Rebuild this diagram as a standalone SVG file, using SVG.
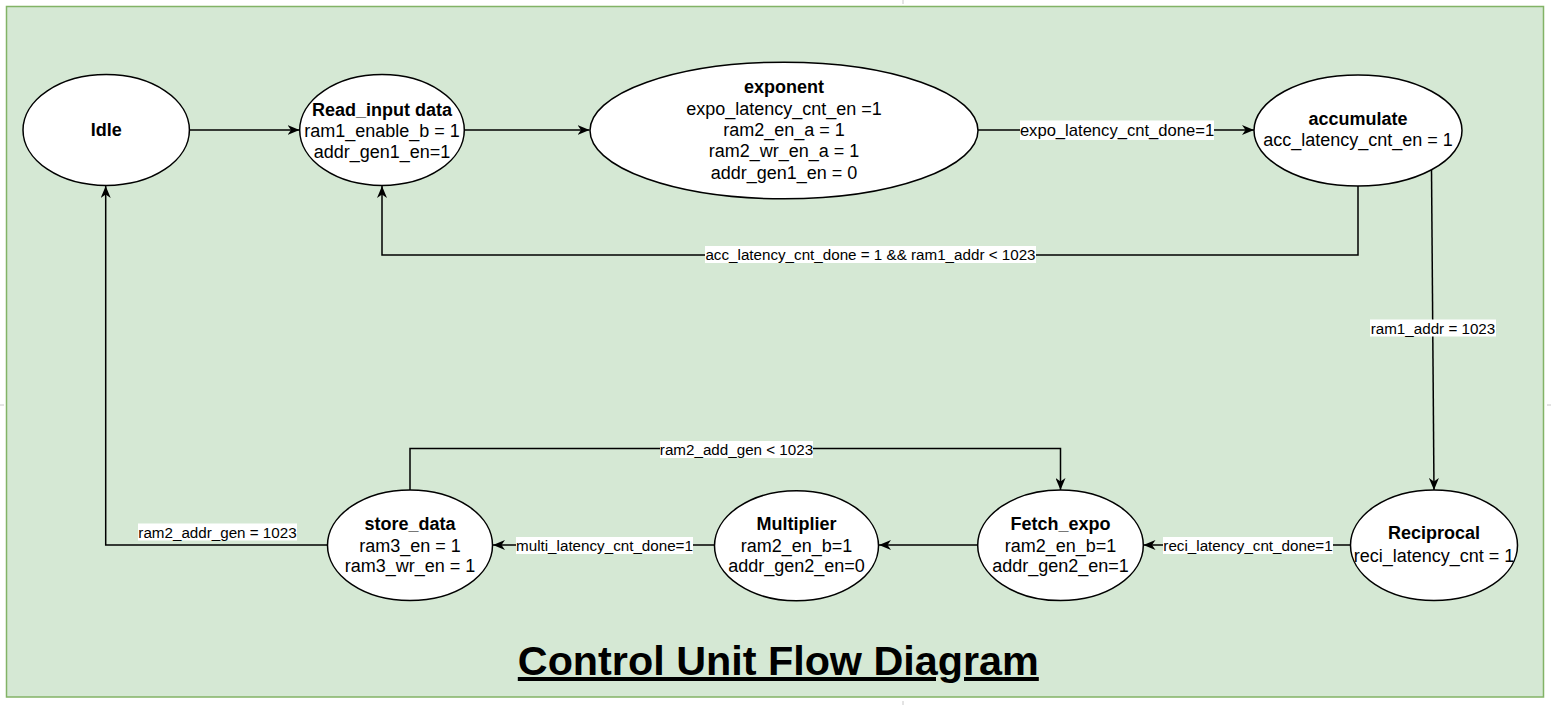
<svg xmlns="http://www.w3.org/2000/svg" width="1551" height="705" viewBox="0 0 1551 705">
<style>
  .node ellipse { fill: #ffffff; stroke: #000000; stroke-width: 1.5; }
  .nt { font-family: "Liberation Sans", Arial, sans-serif; font-size: 18px; fill: #000000; text-anchor: middle; }
  .b { font-weight: bold; }
  .edge { fill: none; stroke: #000000; stroke-width: 1.5; }
  .lbg { fill: #ffffff; stroke: none; }
  .lt { font-family: "Liberation Sans", Arial, sans-serif; font-size: 15.2px; fill: #000000; text-anchor: middle; }
  .tick { stroke: #c8c8c8; stroke-width: 1; }
</style>
<defs>
  <marker id="arr" viewBox="0 0 12 10" refX="12" refY="5" markerWidth="12" markerHeight="10" orient="auto" markerUnits="userSpaceOnUse">
    <path d="M0,0 L12,5 L0,10 L3.5,5 Z" fill="#000000"/>
  </marker>
</defs>
<rect width="1551" height="705" fill="#ffffff"/>
<g id="page-ticks">
  <line class="tick" x1="903" y1="0" x2="903" y2="4"/>
  <line class="tick" x1="903" y1="701" x2="903" y2="705"/>
  <line class="tick" x1="0" y1="405" x2="4" y2="405"/>
  <line class="tick" x1="1547" y1="405" x2="1551" y2="405"/>
</g>
<rect id="background" x="6.5" y="6.5" width="1537" height="690.5" fill="#d5e8d4" stroke="#82b366" stroke-width="1.5"/>

<g id="connectors">
  <line class="edge" x1="189.5" y1="130" x2="299.5" y2="130" marker-end="url(#arr)"/>
  <line class="edge" x1="464" y1="130" x2="589.5" y2="130" marker-end="url(#arr)"/>
  <line class="edge" x1="978" y1="130" x2="1254" y2="130" marker-end="url(#arr)"/>
  <polyline class="edge" points="1358,186 1358,255 382,255 382,186" marker-end="url(#arr)"/>
  <line class="edge" x1="1431.5" y1="169" x2="1434" y2="490" marker-end="url(#arr)"/>
  <line class="edge" x1="1351" y1="545" x2="1143.5" y2="545" marker-end="url(#arr)"/>
  <line class="edge" x1="977.5" y1="545" x2="879" y2="545" marker-end="url(#arr)"/>
  <line class="edge" x1="714.5" y1="545" x2="493" y2="545" marker-end="url(#arr)"/>
  <polyline class="edge" points="410,490 410,448.5 1060.5,448.5 1060.5,490" marker-end="url(#arr)"/>
  <polyline class="edge" points="327.5,545 105.7,545 105.7,186" marker-end="url(#arr)"/>

  <rect class="lbg" x="1020" y="120.5" width="194" height="19.5"/>
  <text class="lt" x="1117" y="136" style="font-size:16.6px">expo_latency_cnt_done=1</text>
  <rect class="lbg" x="705" y="246" width="331" height="17"/>
  <text class="lt" x="870.5" y="260">acc_latency_cnt_done = 1 &amp;&amp; ram1_addr &lt; 1023</text>
  <rect class="lbg" x="1370" y="319.5" width="126" height="17"/>
  <text class="lt" x="1433" y="333.5">ram1_addr = 1023</text>
  <rect class="lbg" x="1163" y="537" width="170" height="17"/>
  <text class="lt" x="1248" y="551">reci_latency_cnt_done=1</text>
  <rect class="lbg" x="516" y="537" width="177" height="17"/>
  <text class="lt" x="604.5" y="551">multi_latency_cnt_done=1</text>
  <rect class="lbg" x="660" y="441" width="153" height="17"/>
  <text class="lt" x="736.5" y="455">ram2_add_gen &lt; 1023</text>
  <rect class="lbg" x="138" y="523.5" width="159" height="17"/>
  <text class="lt" x="217.5" y="537.5">ram2_addr_gen = 1023</text>
</g>

<g id="idle" class="node">
  <ellipse cx="106.2" cy="130" rx="83.2" ry="55.5"/>
  <text class="nt b" x="106.2" y="135.5">Idle</text>
</g>
<g id="read_input" class="node">
  <ellipse cx="382" cy="130" rx="82.3" ry="55.5"/>
  <text class="nt b" x="382" y="115.5">Read_input data</text>
  <text class="nt" x="382" y="136.5">ram1_enable_b = 1</text>
  <text class="nt" x="382" y="158">addr_gen1_en=1</text>
</g>
<g id="exponent" class="node">
  <ellipse cx="784" cy="130.5" rx="194" ry="68.3"/>
  <text class="nt b" x="784" y="93">exponent</text>
  <text class="nt" x="784" y="114.5">expo_latency_cnt_en =1</text>
  <text class="nt" x="784" y="136">ram2_en_a = 1</text>
  <text class="nt" x="784" y="157">ram2_wr_en_a = 1</text>
  <text class="nt" x="784" y="178.5">addr_gen1_en = 0</text>
</g>
<g id="accumulate" class="node">
  <ellipse cx="1358" cy="130.5" rx="104" ry="55.5"/>
  <text class="nt b" x="1358" y="124.5">accumulate</text>
  <text class="nt" x="1358" y="146">acc_latency_cnt_en = 1</text>
</g>
<g id="reciprocal" class="node">
  <ellipse cx="1434" cy="545.3" rx="83.5" ry="55.3"/>
  <text class="nt b" x="1434" y="539.3">Reciprocal</text>
  <text class="nt" x="1434" y="562">reci_latency_cnt = 1</text>
</g>
<g id="fetch_expo" class="node">
  <ellipse cx="1060.5" cy="545.3" rx="82.8" ry="55.3"/>
  <text class="nt b" x="1060.5" y="529.6">Fetch_expo</text>
  <text class="nt" x="1060.5" y="552">ram2_en_b=1</text>
  <text class="nt" x="1060.5" y="572">addr_gen2_en=1</text>
</g>
<g id="multiplier" class="node">
  <ellipse cx="796.5" cy="545.8" rx="82" ry="55"/>
  <text class="nt b" x="796.5" y="529.6">Multiplier</text>
  <text class="nt" x="796.5" y="552">ram2_en_b=1</text>
  <text class="nt" x="796.5" y="572">addr_gen2_en=0</text>
</g>
<g id="store_data" class="node">
  <ellipse cx="410" cy="545.3" rx="82.5" ry="55.3"/>
  <text class="nt b" x="410" y="529.6">store_data</text>
  <text class="nt" x="410" y="552">ram3_en = 1</text>
  <text class="nt" x="410" y="572">ram3_wr_en = 1</text>
</g>

<g id="title">
  <text x="778.3" y="675" font-family="'Liberation Sans', Arial, sans-serif" font-size="40" font-weight="bold" text-anchor="middle" text-decoration="underline" textLength="521" lengthAdjust="spacingAndGlyphs">Control Unit Flow Diagram</text>
</g>
</svg>
